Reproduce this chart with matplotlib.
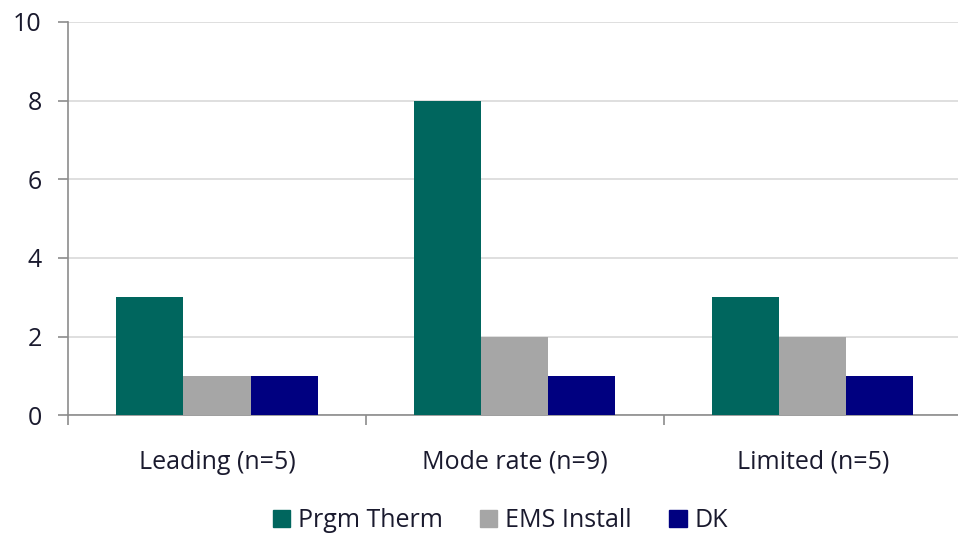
import numpy as np
import matplotlib.pyplot as plt
from matplotlib.patches import Patch

categories = ['Leading (n=5)', 'Mode rate (n=9)', 'Limited (n=5)']
series = ['Prgm Therm', 'EMS Install', 'DK']
prgm_therm = [3, 8, 3]
ems_install = [1, 2, 2]
dk = [1, 1, 1]
colors = ['#00665e', '#a6a6a6', '#000080']

plt.rcParams['font.family'] = ['Open Sans', 'DejaVu Sans']
text_color = '#1a1a2e'
fs = 18

fig = plt.figure(figsize=(9.58, 5.35), dpi=100)
ax = fig.add_axes([0.071, 0.224, 0.933, 0.735])

x = np.arange(len(categories))
w = 0.225
for i, (vals, c) in enumerate(zip([prgm_therm, ems_install, dk], colors)):
    ax.bar(x + (i - 1) * w, vals, width=w, color=c, zorder=3, label=series[i])

ax.set_xlim(-0.5, 2.5)
ax.set_ylim(0, 10)
ax.set_yticks(range(0, 11, 2))
ax.yaxis.grid(True, color='#d9d9d9', linewidth=1.2, zorder=0)
for s in ['top', 'right']:
    ax.spines[s].set_visible(False)
for s in ['left', 'bottom']:
    ax.spines[s].set_color('#8c8c8c')
    ax.spines[s].set_linewidth(1.2)

ax.set_xticks(x)
ax.set_xticklabels(categories)
ax.set_xticks([-0.5, 0.5, 1.5], minor=True)
ax.tick_params(axis='x', which='major', length=0, pad=25, labelsize=fs, labelcolor=text_color)
ax.tick_params(axis='x', which='minor', length=7, width=1.2, color='#8c8c8c')
ax.tick_params(axis='y', length=7, width=1.2, color='#8c8c8c', pad=12, labelsize=fs, labelcolor=text_color)

handles = [Patch(color=c, label=s) for c, s in zip(colors, series)]
fig.legend(handles=handles, loc='center', bbox_to_anchor=(0.522, 0.027), ncol=3,
           frameon=False, fontsize=fs, handlelength=0.7, handleheight=0.7,
           columnspacing=1.5, handletextpad=0.3, labelcolor=text_color)

fig.savefig('out.png', dpi=100)
